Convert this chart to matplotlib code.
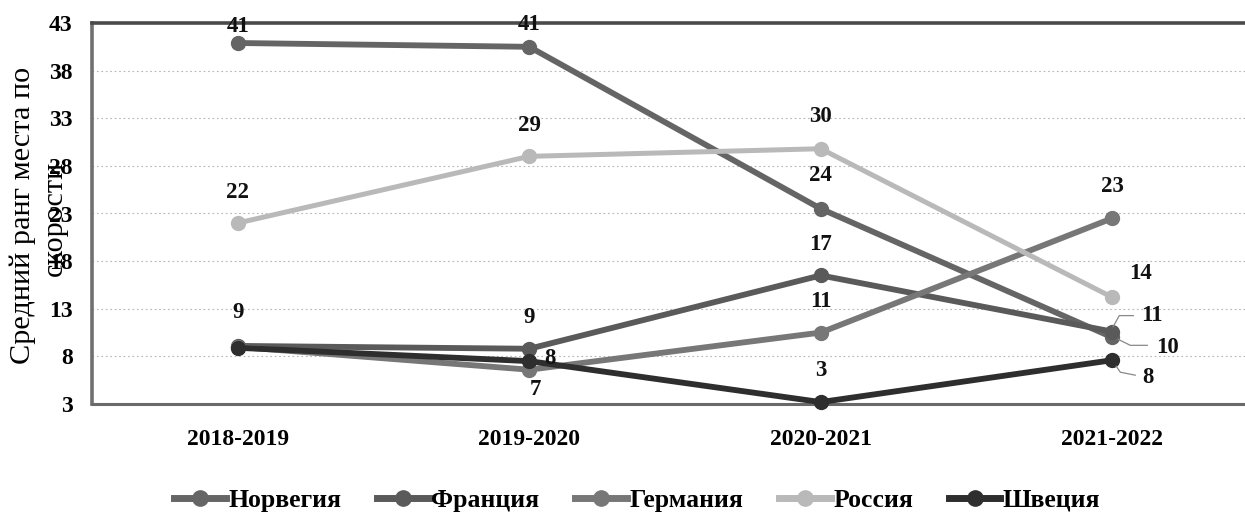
import matplotlib
matplotlib.use("Agg")
import matplotlib.pyplot as plt
from matplotlib.lines import Line2D

# ---------------- data ----------------
seasons = ["2018-2019", "2019-2020", "2020-2021", "2021-2022"]
countries = ["Норвегия", "Франция", "Германия", "Россия", "Швеция"]

norway = [40.9, 40.5, 23.5, 10.0]
france = [9.1, 8.8, 16.5, 10.6]
germany = [9.0, 6.6, 10.5, 22.5]
russia = [22.0, 29.0, 29.8, 14.2]
sweden = [8.9, 7.5, 3.2, 7.6]

norway_labels = ["41", "41", "24", "10"]
france_labels = ["9", "9", "17", "11"]
germany_labels = [None, "7", "11", "23"]
russia_labels = ["22", "29", "30", "14"]
sweden_labels = [None, "8", "3", "8"]

yticks = [3, 8, 13, 18, 23, 28, 33, 38, 43]
ylabel_lines = ["Средний ранг места по", "скорости"]

# ---------------- style ----------------
W, H = 1245, 521
fig = plt.figure(figsize=(W / 100, H / 100), dpi=100)
serif = ["Liberation Serif", "DejaVu Serif"]

left, top, bottom, right = 92, 23, 404, 1258
ax = fig.add_axes([left / W, (H - bottom) / H, (right - left) / W, (bottom - top) / H])
ax.set_xlim(-0.5, 3.5)
ax.set_ylim(3, 43)

series = [
    (norway, norway_labels, "#656565", 4.2),
    (france, france_labels, "#5a5a5a", 4.2),
    (germany, germany_labels, "#777777", 4.2),
    (russia, russia_labels, "#b9b9b9", 3.6),
    (sweden, sweden_labels, "#2e2e2e", 4.2),
]

# label offsets in pixels (dx, dy) per series / point and optional leader
offsets = [
    [(0, 17), (0, 22), (0, 33), (55, -10)],
    [(0, 33), (0, 31), (0, 31), (40, 16)],
    [None, (6, -20), (0, 31), (0, 32)],
    [(0, 31), (0, 31), (0, 32), (28, 24)],
    [None, (21, 3), (0, 32), (36, -17)],
]
leaders = {(0, 3): [(6, -2), (18, -8), (35, -8)],
           (1, 3): [(1, 5), (7, 16), (21, 16)],
           (4, 3): [(4, -6), (8, -12), (23, -15)]}

x = list(range(len(seasons)))
for si, (vals, labs, col, lw) in enumerate(series):
    ax.plot(x, vals, color=col, lw=lw, marker="o", markersize=10,
            markerfacecolor=col, markeredgecolor=col, solid_capstyle="round",
            zorder=3 + (si == 4), clip_on=False)
    for pi, (v, lab) in enumerate(zip(vals, labs)):
        if lab is None:
            continue
        dx, dy = offsets[si][pi]
        ax.annotate(lab, (x[pi], v), xytext=(dx, dy), textcoords="offset pixels",
                    ha="center", va="center", fontsize=16.5, fontweight="bold",
                    family=serif, color="#111111", zorder=6, annotation_clip=False)
        if (si, pi) in leaders:
            pts = leaders[(si, pi)]
            base = ax.transData.transform((x[pi], v))
            xs = [base[0] + p[0] for p in pts]
            ys = [base[1] + p[1] for p in pts]
            fig.add_artist(Line2D(xs, ys, transform=None, color="#888888", lw=0.9, zorder=7))

ax.set_yticks(yticks)
ax.set_xticks(x)
ax.set_xticklabels(seasons)
ax.tick_params(length=0)
for lab in ax.get_xticklabels() + ax.get_yticklabels():
    lab.set_family(serif)
    lab.set_fontweight("bold")
    lab.set_fontsize(17)
ax.tick_params(axis="y", pad=14)
ax.tick_params(axis="x", pad=18)

for yv in yticks[1:-1]:
    ax.axhline(yv, color="#b5b5b5", lw=0.8, ls=(0, (1.5, 2.5)), zorder=1)

for name, sp in ax.spines.items():
    sp.set_color("#4a4a4a")
    sp.set_linewidth(2.6)
ax.spines["left"].set_color("#707070")
ax.spines["bottom"].set_color("#6a6a6a")
ax.spines["bottom"].set_linewidth(2.2)

# y label, two lines (the second line sits over the tick labels, as in the source)
fig.text(23 / W, 1 - 215 / H, ylabel_lines[0], rotation=90, ha="center", va="center",
         fontsize=21.8, family=serif)
fig.text(55 / W, 1 - 218 / H, ylabel_lines[1], rotation=90, ha="center", va="center",
         fontsize=21.8, family=serif)

# legend
handles = [Line2D([], [], color=s[2], lw=5, marker="o", markersize=11) for s in series]
fig.legend(handles, countries, loc="center", bbox_to_anchor=(0.512, 0.04), ncol=5,
           frameon=False, handlelength=2.0, handletextpad=0.1, columnspacing=1.4,
           prop={"family": serif, "size": 18.5, "weight": "bold"})

fig.savefig("out.png", dpi=100)
